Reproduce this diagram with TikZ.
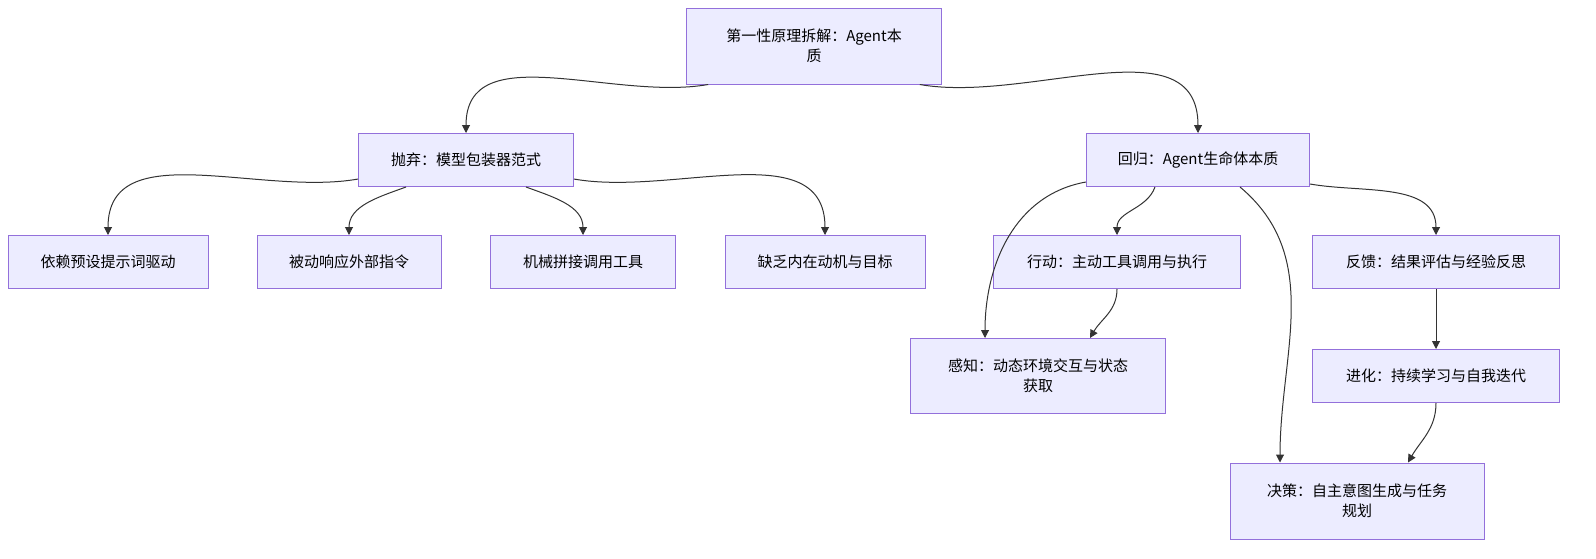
\documentclass[tikz,border=0pt]{standalone}
\usepackage{fontspec}
\setmainfont{Noto Sans CJK SC}
\usetikzlibrary{arrows.meta,calc}
\definecolor{boxfill}{HTML}{ECECFF}
\definecolor{boxline}{HTML}{9370DB}
\definecolor{linkc}{HTML}{333333}
\begin{document}
\begin{tikzpicture}[x=0.5pt,y=-0.5pt,font=\fontsize{7.5}{10}\selectfont,
      box/.style={draw=boxline,fill=boxfill,line width=0.5pt,align=center,inner sep=0pt},
      link/.style={-{Triangle[length=4pt,width=4pt]},draw=linkc,line width=0.5pt}]
      \useasboundingbox (0,0) rectangle (1596,558);
      % top level
      \node[box,minimum width=127.5pt,minimum height=38pt] (root) at (814,46) {第一性原理拆解：Agent本\\质};
      \node[box,minimum width=107.5pt,minimum height=26.5pt] (drop) at (466,160) {抛弃：模型包装器范式};
      \node[box,minimum width=111.5pt,minimum height=26.5pt] (back) at (1198,160) {回归：Agent生命体本质};

      % left branch
      \node[box,minimum width=100pt,minimum height=26.5pt] (d1) at (108,262) {依赖预设提示词驱动};
      \node[box,minimum width=92pt,minimum height=26.5pt] (d2) at (349,262) {被动响应外部指令};
      \node[box,minimum width=92.5pt,minimum height=26.5pt] (d3) at (583,262) {机械拼接调用工具};
      \node[box,minimum width=100pt,minimum height=26.5pt] (d4) at (825,262) {缺乏内在动机与目标};

      % right branch
      \node[box,minimum width=123.5pt,minimum height=26.5pt] (act) at (1117,262) {行动：主动工具调用与执行};
      \node[box,minimum width=123.5pt,minimum height=26.5pt] (feed) at (1436,262) {反馈：结果评估与经验反思};
      \node[box,minimum width=127.5pt,minimum height=37.5pt] (sense) at (1038,376) {感知：动态环境交互与状态\\获取};
      \node[box,minimum width=123.5pt,minimum height=26.5pt] (evolve) at (1436,376) {进化：持续学习与自我迭代};
      \node[box,minimum width=127pt,minimum height=38pt] (decide) at (1357,501) {决策：自主意图生成与任务\\规划};

      \draw[link] (root.200) to[out=190,in=90] (drop.north);
      \draw[link] (root.-20) to[out=-10,in=90] (back.north);
      \draw[link] (drop.190) to[out=190,in=90] (d1.north);
      \draw[link] ([xshift=-30pt]drop.south) to[out=200,in=90] (d2.north);
      \draw[link] ([xshift=30pt]drop.south) to[out=-20,in=90] (d3.north);
      \draw[link] (drop.-10) to[out=-10,in=90] (d4.north);
      \draw[link] ([yshift=-11pt]back.west) to[out=190,in=90] ([xshift=-26.5pt]sense.north);
      \draw[link] ([xshift=-21.5pt]back.south) to[out=-110,in=90] (act.north);
      \draw[link] ([xshift=21pt]back.south) to[out=-40,in=90] ([xshift=-38.5pt]decide.north);
      \draw[link] ([yshift=-12pt]back.east) to[out=-10,in=90] (feed.north);
      \draw[link] (act.south) to[out=-90,in=60] ([xshift=26pt]sense.north);
      \draw[link] (feed) -- (evolve);
      \draw[link] (evolve.south) to[out=-90,in=60] ([xshift=25.5pt]decide.north);
\end{tikzpicture}
\end{document}
